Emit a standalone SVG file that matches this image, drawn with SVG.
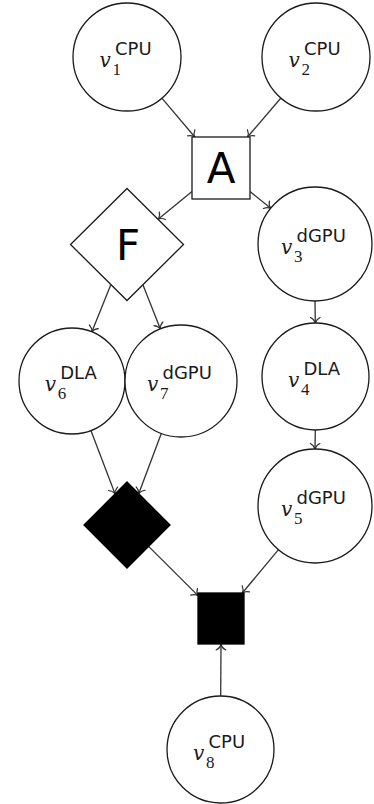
<svg xmlns="http://www.w3.org/2000/svg" width="374" height="804" viewBox="0 0 374 804">
  <style>
    .node { fill: #ffffff; stroke: #1a1a1a; stroke-width: 1.3; }
    .solid { fill: #000000; stroke: #000000; stroke-width: 1.3; }
    .edge { fill: none; stroke: #333333; stroke-width: 1.3; marker-end: url(#to); }
    .lbl { fill: #1a1a1a; }
    .v { font-family: "DejaVu Serif", "Liberation Serif", serif; font-style: italic; font-size: 20px; }
    .sub { font-family: "Liberation Serif", "DejaVu Serif", serif; font-style: normal; font-size: 17px; }
    .sup { font-family: "DejaVu Sans", "Liberation Sans", sans-serif; font-style: normal; font-size: 18px; }
    .big { font-family: "DejaVu Sans", "Liberation Sans", sans-serif; font-size: 42px; fill: #000000; text-anchor: middle; }
  </style>
  <defs>
    <!-- open curved "to" arrowhead, tip at the path end -->
    <marker id="to" markerUnits="userSpaceOnUse" viewBox="-7 -6 8 12" refX="0" refY="0" markerWidth="8" markerHeight="12" orient="auto" overflow="visible">
      <path d="M-5.5,-4.8 C-4,-1.8 -1.8,-0.5 0,0 C-1.8,0.5 -4,1.8 -5.5,4.8" fill="none" stroke="#333333" stroke-width="1.2" stroke-linecap="round"/>
    </marker>
  </defs>

  <g id="edges">
    <line class="edge" x1="161.9" y1="98.2" x2="194.8" y2="137"/>
    <line class="edge" x1="280.9" y1="98" x2="247.5" y2="137"/>
    <line class="edge" x1="192" y1="191.6" x2="158.1" y2="219.2"/>
    <line class="edge" x1="250" y1="191.5" x2="270.7" y2="208.2"/>
    <line class="edge" x1="110.8" y1="284.8" x2="91.8" y2="331.9"/>
    <line class="edge" x1="143" y1="285" x2="160.4" y2="328.9"/>
    <line class="edge" x1="315" y1="301" x2="315.3" y2="323"/>
    <line class="edge" x1="315.3" y1="430" x2="315" y2="449"/>
    <line class="edge" x1="90.9" y1="430.5" x2="115.1" y2="493.9"/>
    <line class="edge" x1="161.3" y1="433.4" x2="138.7" y2="493.7"/>
    <line class="edge" x1="148.6" y1="546.4" x2="198" y2="595.6"/>
    <line class="edge" x1="278.5" y1="549.7" x2="242.3" y2="593"/>
    <line class="edge" x1="220.7" y1="696" x2="221" y2="644.5"/>
  </g>

  <!-- each label: italic v, subscript index, sans superscript processor -->
  <g id="v1">
    <circle class="node" cx="127" cy="57" r="54"/>
    <text class="lbl"><tspan class="v" x="99.5" y="67">v</tspan><tspan class="sub" x="112.5" y="75">1</tspan><tspan class="sup" x="115" y="55">CPU</tspan></text>
  </g>
  <g id="v2">
    <circle class="node" cx="316" cy="57" r="54"/>
    <text class="lbl"><tspan class="v" x="288.5" y="67">v</tspan><tspan class="sub" x="301.5" y="75">2</tspan><tspan class="sup" x="304" y="55">CPU</tspan></text>
  </g>
  <g id="A">
    <rect class="node" x="192" y="137" width="58" height="62"/>
    <text class="big" x="221" y="183" font-size="41">A</text>
  </g>
  <g id="F">
    <polygon class="node" points="127,188.5 183.5,244.5 127,300.5 70.5,244.5"/>
    <text class="big" x="128" y="260">F</text>
  </g>
  <g id="v3">
    <circle class="node" cx="315" cy="244" r="57"/>
    <text class="lbl"><tspan class="v" x="281" y="254">v</tspan><tspan class="sub" x="294" y="262">3</tspan><tspan class="sup" x="296.5" y="242">dGPU</tspan></text>
  </g>
  <g id="v4">
    <circle class="node" cx="315.5" cy="376.5" r="53.5"/>
    <text class="lbl"><tspan class="v" x="288" y="386.5">v</tspan><tspan class="sub" x="301" y="394.5">4</tspan><tspan class="sup" x="303.5" y="374.5">DLA</tspan></text>
  </g>
  <g id="v5">
    <circle class="node" cx="315" cy="506" r="57"/>
    <text class="lbl"><tspan class="v" x="281" y="516">v</tspan><tspan class="sub" x="294" y="524">5</tspan><tspan class="sup" x="296.5" y="504">dGPU</tspan></text>
  </g>
  <g id="v6">
    <circle class="node" cx="72" cy="381" r="53"/>
    <text class="lbl"><tspan class="v" x="44.7" y="391">v</tspan><tspan class="sub" x="57.7" y="399">6</tspan><tspan class="sup" x="60.2" y="379">DLA</tspan></text>
  </g>
  <g id="v7">
    <circle class="node" cx="181" cy="381" r="56"/>
    <text class="lbl"><tspan class="v" x="147" y="391">v</tspan><tspan class="sub" x="160" y="399">7</tspan><tspan class="sup" x="162.5" y="379">dGPU</tspan></text>
  </g>
  <g id="D">
    <polygon class="solid" points="127,482 170,525 127,568 84,525"/>
  </g>
  <g id="S">
    <rect class="solid" x="198" y="593" width="46" height="51"/>
  </g>
  <g id="v8">
    <circle class="node" cx="220.5" cy="749.5" r="53.5"/>
    <text class="lbl"><tspan class="v" x="193" y="759.5">v</tspan><tspan class="sub" x="206" y="767.5">8</tspan><tspan class="sup" x="208.5" y="747.5">CPU</tspan></text>
  </g>
</svg>
